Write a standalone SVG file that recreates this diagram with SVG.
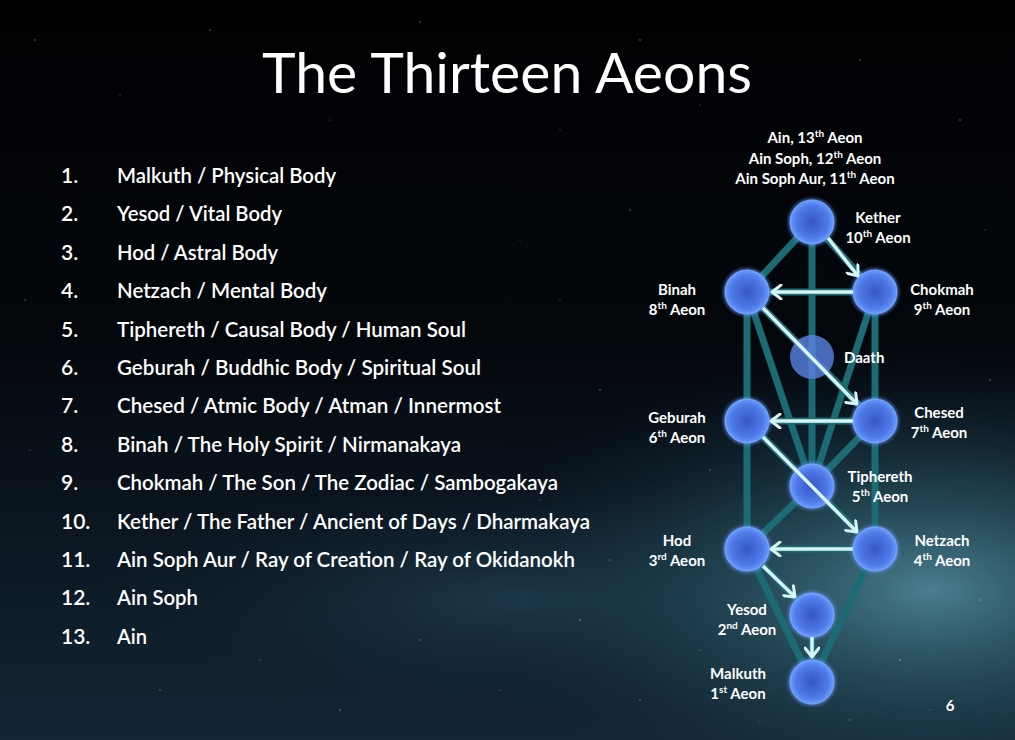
<svg xmlns="http://www.w3.org/2000/svg" width="1015" height="740" viewBox="0 0 1015 740">
<defs>
<linearGradient id="bg" x1="0" y1="0" x2="0" y2="1">
<stop offset="0" stop-color="#010103"/>
<stop offset="0.45" stop-color="#03070c"/>
<stop offset="1" stop-color="#132636"/>
</linearGradient>
<radialGradient id="glow" cx="930" cy="590" r="480" gradientUnits="userSpaceOnUse" gradientTransform="translate(930 590) scale(1 0.5) translate(-930 -590)">
<stop offset="0" stop-color="#4f8a9b" stop-opacity="0.9"/>
<stop offset="0.5" stop-color="#26505f" stop-opacity="0.55"/>
<stop offset="1" stop-color="#0f2130" stop-opacity="0"/>
</radialGradient>
<radialGradient id="glow2" cx="520" cy="600" r="420" gradientUnits="userSpaceOnUse" gradientTransform="translate(520 600) scale(1 0.3) translate(-520 -600)">
<stop offset="0" stop-color="#234456" stop-opacity="0.75"/>
<stop offset="1" stop-color="#0f2130" stop-opacity="0"/>
</radialGradient>
<radialGradient id="sph" cx="0.5" cy="0.5" r="0.5">
<stop offset="0" stop-color="#3755c4"/>
<stop offset="0.75" stop-color="#4f7ce8"/>
<stop offset="1" stop-color="#6a9cff"/>
</radialGradient>
<filter id="gl" x="-30%" y="-30%" width="160%" height="160%">
<feGaussianBlur stdDeviation="1.8"/>
</filter>
<marker id="ah" markerWidth="14" markerHeight="16" refX="0" refY="0" viewBox="-12 -8 14 16" orient="auto" markerUnits="userSpaceOnUse">
<path d="M-9,-7 L0,0 L-9,7" fill="none" stroke="#d8f3f3" stroke-width="3" stroke-linecap="round" stroke-linejoin="round"/>
</marker>
</defs>
<style>
.title{font-family:Lato,"Liberation Sans",sans-serif;font-size:56px;fill:#ffffff;}
.item{font-family:Lato,"Liberation Sans",sans-serif;font-size:21px;font-weight:600;fill:#ffffff;}
.lbl{font-family:Lato,"Liberation Sans",sans-serif;font-size:15px;font-weight:700;fill:#ffffff;}
.sup{font-size:10px;}
.path{stroke:#1c6b74;stroke-width:7;fill:none;stroke-linecap:butt;}
.arr{stroke:#d8f3f3;stroke-width:3.5;fill:none;marker-end:url(#ah);}
.halo{fill:#6d9dff;opacity:0.55;filter:url(#gl);}
.ball{fill:url(#sph);stroke:#78a6ff;stroke-width:1;}
.star{fill:#ffffff;}
</style>
<rect x="0" y="0" width="1015" height="740" fill="url(#bg)"/>
<rect x="0" y="0" width="1015" height="740" fill="url(#glow2)"/>
<rect x="0" y="0" width="1015" height="740" fill="url(#glow)"/>
<g id="stars" opacity="0.45">
<circle class="star" cx="35" cy="40" r="0.7"/><circle class="star" cx="120" cy="95" r="0.6"/><circle class="star" cx="210" cy="30" r="0.8"/>
<circle class="star" cx="330" cy="120" r="0.6"/><circle class="star" cx="420" cy="22" r="0.7"/><circle class="star" cx="560" cy="130" r="0.6"/>
<circle class="star" cx="640" cy="40" r="0.8"/><circle class="star" cx="700" cy="105" r="0.6"/><circle class="star" cx="860" cy="60" r="0.7"/>
<circle class="star" cx="960" cy="120" r="0.8"/><circle class="star" cx="985" cy="230" r="0.6"/><circle class="star" cx="630" cy="210" r="0.7"/>
<circle class="star" cx="560" cy="300" r="0.6"/><circle class="star" cx="600" cy="390" r="0.8"/><circle class="star" cx="520" cy="240" r="0.6"/>
<circle class="star" cx="25" cy="300" r="0.7"/><circle class="star" cx="30" cy="450" r="0.6"/><circle class="star" cx="80" cy="560" r="0.8"/>
<circle class="star" cx="160" cy="690" r="0.7"/><circle class="star" cx="260" cy="660" r="0.6"/><circle class="star" cx="340" cy="710" r="0.8"/>
<circle class="star" cx="420" cy="640" r="0.7"/><circle class="star" cx="500" cy="690" r="0.6"/><circle class="star" cx="580" cy="620" r="0.8"/>
<circle class="star" cx="640" cy="700" r="0.7"/><circle class="star" cx="700" cy="650" r="0.6"/><circle class="star" cx="900" cy="660" r="0.8"/>
<circle class="star" cx="980" cy="600" r="0.7"/><circle class="star" cx="960" cy="480" r="0.6"/><circle class="star" cx="990" cy="380" r="0.8"/>
<circle class="star" cx="610" cy="560" r="0.7"/><circle class="star" cx="540" cy="500" r="0.6"/><circle class="star" cx="710" cy="470" r="0.7"/>
<circle class="star" cx="930" cy="710" r="0.6"/><circle class="star" cx="850" cy="720" r="0.7"/><circle class="star" cx="760" cy="720" r="0.6"/>
</g>
<text class="title" x="507" y="93" text-anchor="middle" textLength="490" lengthAdjust="spacingAndGlyphs">The Thirteen Aeons</text>
<g id="list">
<text class="item" x="61" y="183">1.</text><text class="item" x="117" y="183" textLength="219" lengthAdjust="spacingAndGlyphs">Malkuth / Physical Body</text>
<text class="item" x="61" y="221.4">2.</text><text class="item" x="117" y="221.4" textLength="165" lengthAdjust="spacingAndGlyphs">Yesod / Vital Body</text>
<text class="item" x="61" y="259.8">3.</text><text class="item" x="117" y="259.8" textLength="161" lengthAdjust="spacingAndGlyphs">Hod / Astral Body</text>
<text class="item" x="61" y="298.2">4.</text><text class="item" x="117" y="298.2" textLength="210" lengthAdjust="spacingAndGlyphs">Netzach / Mental Body</text>
<text class="item" x="61" y="336.6">5.</text><text class="item" x="117" y="336.6" textLength="349" lengthAdjust="spacingAndGlyphs">Tiphereth / Causal Body / Human Soul</text>
<text class="item" x="61" y="375">6.</text><text class="item" x="117" y="375" textLength="364" lengthAdjust="spacingAndGlyphs">Geburah / Buddhic Body / Spiritual Soul</text>
<text class="item" x="61" y="413.4">7.</text><text class="item" x="117" y="413.4" textLength="384" lengthAdjust="spacingAndGlyphs">Chesed / Atmic Body / Atman / Innermost</text>
<text class="item" x="61" y="451.8">8.</text><text class="item" x="117" y="451.8" textLength="344" lengthAdjust="spacingAndGlyphs">Binah / The Holy Spirit / Nirmanakaya</text>
<text class="item" x="61" y="490.2">9.</text><text class="item" x="117" y="490.2" textLength="441" lengthAdjust="spacingAndGlyphs">Chokmah / The Son / The Zodiac / Sambogakaya</text>
<text class="item" x="61" y="528.6">10.</text><text class="item" x="117" y="528.6" textLength="473" lengthAdjust="spacingAndGlyphs">Kether / The Father / Ancient of Days / Dharmakaya</text>
<text class="item" x="61" y="567">11.</text><text class="item" x="117" y="567" textLength="458" lengthAdjust="spacingAndGlyphs">Ain Soph Aur / Ray of Creation / Ray of Okidanokh</text>
<text class="item" x="61" y="605.4">12.</text><text class="item" x="117" y="605.4" textLength="81" lengthAdjust="spacingAndGlyphs">Ain Soph</text>
<text class="item" x="61" y="643.8">13.</text><text class="item" x="117" y="643.8" textLength="30" lengthAdjust="spacingAndGlyphs">Ain</text>
</g>
<g id="top-label">
<text class="lbl" x="815" y="143" text-anchor="middle">Ain, 13<tspan class="sup" dy="-6">th</tspan><tspan dy="6"> Aeon</tspan></text>
<text class="lbl" x="815" y="164" text-anchor="middle">Ain Soph, 12<tspan class="sup" dy="-6">th</tspan><tspan dy="6"> Aeon</tspan></text>
<text class="lbl" x="815" y="184" text-anchor="middle">Ain Soph Aur, 11<tspan class="sup" dy="-6">th</tspan><tspan dy="6"> Aeon</tspan></text>
</g>
<g id="connectors">
<line class="path" x1="812" y1="222" x2="747" y2="292"/>
<line class="path" x1="812" y1="222" x2="875" y2="292"/>
<line class="path" x1="812" y1="222" x2="812" y2="486"/>
<line class="path" x1="747" y1="292" x2="747" y2="549"/>
<line class="path" x1="875" y1="292" x2="875" y2="549"/>
<line class="path" x1="747" y1="292" x2="875" y2="292"/>
<line class="path" x1="747" y1="421" x2="875" y2="421"/>
<line class="path" x1="747" y1="549" x2="875" y2="549"/>
<line class="path" x1="747" y1="292" x2="812" y2="486"/>
<line class="path" x1="875" y1="292" x2="812" y2="486"/>
<line class="path" x1="747" y1="292" x2="875" y2="421"/>
<line class="path" x1="747" y1="421" x2="875" y2="549"/>
<line class="path" x1="875" y1="421" x2="812" y2="486"/>
<line class="path" x1="747" y1="549" x2="812" y2="486"/>
<line class="path" x1="747" y1="549" x2="812" y2="615"/>
<line class="path" x1="747" y1="549" x2="812" y2="682"/>
<line class="path" x1="875" y1="549" x2="812" y2="682"/>
<line class="path" x1="812" y1="615" x2="812" y2="682"/>
</g>
<g id="kether"><circle class="halo" cx="812" cy="222" r="24"/><circle class="ball" cx="812" cy="222" r="22"/>
<text class="lbl" x="878" y="223" text-anchor="middle">Kether</text>
<text class="lbl" x="878" y="243" text-anchor="middle">10<tspan class="sup" dy="-6">th</tspan><tspan dy="6"> Aeon</tspan></text></g>
<g id="binah"><circle class="halo" cx="747" cy="292" r="24"/><circle class="ball" cx="747" cy="292" r="22"/>
<text class="lbl" x="677" y="295" text-anchor="middle">Binah</text>
<text class="lbl" x="677" y="315" text-anchor="middle">8<tspan class="sup" dy="-6">th</tspan><tspan dy="6"> Aeon</tspan></text></g>
<g id="chokmah"><circle class="halo" cx="875" cy="292" r="24"/><circle class="ball" cx="875" cy="292" r="22"/>
<text class="lbl" x="942" y="295" text-anchor="middle">Chokmah</text>
<text class="lbl" x="942" y="315" text-anchor="middle">9<tspan class="sup" dy="-6">th</tspan><tspan dy="6"> Aeon</tspan></text></g>
<g id="daath"><circle cx="812" cy="357" r="22" fill="#5a82e2" opacity="0.8"/>
<text class="lbl" x="844" y="363">Daath</text></g>
<g id="geburah"><circle class="halo" cx="747" cy="421" r="24"/><circle class="ball" cx="747" cy="421" r="22"/>
<text class="lbl" x="677" y="423" text-anchor="middle">Geburah</text>
<text class="lbl" x="677" y="443" text-anchor="middle">6<tspan class="sup" dy="-6">th</tspan><tspan dy="6"> Aeon</tspan></text></g>
<g id="chesed"><circle class="halo" cx="875" cy="421" r="24"/><circle class="ball" cx="875" cy="421" r="22"/>
<text class="lbl" x="939" y="418" text-anchor="middle">Chesed</text>
<text class="lbl" x="939" y="438" text-anchor="middle">7<tspan class="sup" dy="-6">th</tspan><tspan dy="6"> Aeon</tspan></text></g>
<g id="tiphereth"><circle class="halo" cx="812" cy="486" r="24"/><circle class="ball" cx="812" cy="486" r="22"/>
<text class="lbl" x="880" y="482" text-anchor="middle">Tiphereth</text>
<text class="lbl" x="880" y="502" text-anchor="middle">5<tspan class="sup" dy="-6">th</tspan><tspan dy="6"> Aeon</tspan></text></g>
<g id="hod"><circle class="halo" cx="747" cy="549" r="24"/><circle class="ball" cx="747" cy="549" r="22"/>
<text class="lbl" x="677" y="546" text-anchor="middle">Hod</text>
<text class="lbl" x="677" y="566" text-anchor="middle">3<tspan class="sup" dy="-6">rd</tspan><tspan dy="6"> Aeon</tspan></text></g>
<g id="netzach"><circle class="halo" cx="875" cy="549" r="24"/><circle class="ball" cx="875" cy="549" r="22"/>
<text class="lbl" x="942" y="546" text-anchor="middle">Netzach</text>
<text class="lbl" x="942" y="566" text-anchor="middle">4<tspan class="sup" dy="-6">th</tspan><tspan dy="6"> Aeon</tspan></text></g>
<g id="yesod"><circle class="halo" cx="812" cy="615" r="24"/><circle class="ball" cx="812" cy="615" r="22"/>
<text class="lbl" x="747" y="615" text-anchor="middle">Yesod</text>
<text class="lbl" x="747" y="635" text-anchor="middle">2<tspan class="sup" dy="-6">nd</tspan><tspan dy="6"> Aeon</tspan></text></g>
<g id="malkuth"><circle class="halo" cx="812" cy="682" r="24"/><circle class="ball" cx="812" cy="682" r="22"/>
<text class="lbl" x="738" y="679" text-anchor="middle">Malkuth</text>
<text class="lbl" x="738" y="699" text-anchor="middle">1<tspan class="sup" dy="-6">st</tspan><tspan dy="6"> Aeon</tspan></text></g>
<g id="arrows">
<line class="arr" x1="828" y1="238" x2="858" y2="276"/>
<line class="arr" x1="853" y1="292" x2="772" y2="292"/>
<line class="arr" x1="763" y1="308" x2="857" y2="404"/>
<line class="arr" x1="853" y1="421" x2="771" y2="421"/>
<line class="arr" x1="763" y1="437" x2="857" y2="532"/>
<line class="arr" x1="853" y1="549" x2="771" y2="549"/>
<line class="arr" x1="763" y1="566" x2="795" y2="597"/>
<line class="arr" x1="812" y1="637" x2="812" y2="657"/>
</g>
<text class="lbl" x="950" y="711" text-anchor="middle">6</text>
</svg>
